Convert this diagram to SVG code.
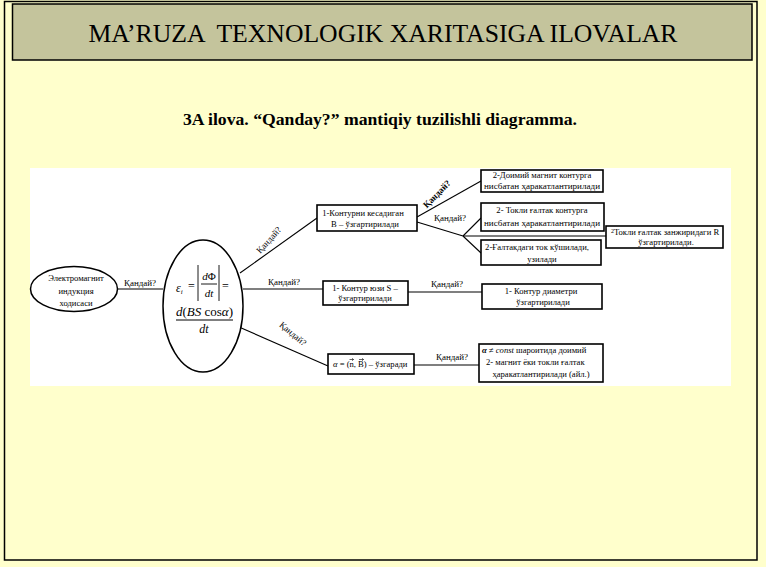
<svg xmlns="http://www.w3.org/2000/svg" width="766" height="567" viewBox="0 0 766 567">
<style>
text{font-family:Liberation Serif,DejaVu Serif,Noto Serif,serif;fill:#000}
.box{fill:#fff;stroke:#000;stroke-width:1.6}
.ln{stroke:#000;stroke-width:1.1;fill:none}
.t{font-size:8.6px;text-anchor:middle}
.tl{font-size:8.6px}
.q{font-size:9px;text-anchor:middle}
.qb{font-size:9px;text-anchor:middle;font-weight:bold}
.m{font-style:italic}
.ar{stroke:#000;stroke-width:0.6;fill:none}
</style>
<rect x="0" y="0" width="766" height="567" fill="#FFFFCC"/>
<rect x="4.5" y="1.5" width="752.5" height="558.5" fill="none" stroke="#000" stroke-width="1.5"/>
<g id="title">
<rect x="12.5" y="4" width="739.5" height="56" fill="#C4C49C" stroke="#000" stroke-width="1.5"/>
<text x="383" y="42" font-size="25" text-anchor="middle" textLength="589" lengthAdjust="spacingAndGlyphs" style="white-space:pre">MA’RUZA  TEXNOLOGIK XARITASIGA ILOVALAR</text>
</g>
<g id="subtitle">
<text x="380" y="125" font-size="16" font-weight="bold" text-anchor="middle" textLength="394" lengthAdjust="spacingAndGlyphs">3A ilova. “Qanday?” mantiqiy tuzilishli diagramma.</text>
</g>
<rect x="30" y="168" width="701" height="218" fill="#fff"/>

<g id="connectors">
<line class="ln" x1="118" y1="289" x2="163" y2="289"/>
<line class="ln" x1="240" y1="273" x2="317" y2="218"/>
<line class="ln" x1="243" y1="289" x2="323" y2="289"/>
<line class="ln" x1="239" y1="327" x2="328" y2="366"/>
<line class="ln" x1="417" y1="217" x2="481" y2="181"/>
<line class="ln" x1="417" y1="222" x2="463" y2="236"/>
<line class="ln" x1="463" y1="236" x2="481" y2="218"/>
<line class="ln" x1="463" y1="236" x2="481" y2="253"/>
<line class="ln" x1="463" y1="236" x2="606" y2="236" stroke-width="1.6"/>
<line class="ln" x1="408" y1="292" x2="482" y2="292" stroke="#888"/>
<line class="ln" x1="414" y1="365" x2="479" y2="365"/>
<text class="q" x="140" y="286">Қандай?</text>
<text class="q" x="284" y="285">Қандай?</text>
<text class="q" transform="translate(271,242) rotate(-48)">Қандай?</text>
<text class="q" transform="translate(291,336) rotate(40)">Қандай?</text>
<text class="qb" transform="translate(439,196) rotate(-46)">Қандай?</text>
<text class="q" x="450" y="221">Қандай?</text>
<text class="q" x="447" y="287">Қандай?</text>
<text class="q" x="452" y="360">Қандай?</text>
</g>

<g id="node-start">
<ellipse cx="74" cy="289" rx="43.5" ry="22.5" fill="#fff" stroke="#000" stroke-width="1.5"/>
<text class="t" x="76" y="281">Электромагнит</text>
<text class="t" x="76" y="294">индукция</text>
<text class="t" x="76" y="306">ходисаси</text>
</g>

<g id="node-formula">
<ellipse cx="203" cy="306" rx="40" ry="66" fill="#fff" stroke="#000" stroke-width="1.5"/>
<text x="176" y="292" font-size="12" class="m">ε<tspan font-size="7" dy="2">i</tspan></text>
<text x="188" y="290" font-size="12">=</text>
<line x1="198" y1="265" x2="198" y2="301" stroke="#000" stroke-width="0.9"/>
<line x1="219" y1="265" x2="219" y2="301" stroke="#000" stroke-width="0.9"/>
<text x="209" y="280" font-size="11" text-anchor="middle"><tspan class="m">d</tspan>Φ</text>
<line x1="201" y1="284" x2="217" y2="284" stroke="#000" stroke-width="0.9"/>
<text x="209" y="297" font-size="11" text-anchor="middle" class="m">dt</text>
<text x="222" y="290" font-size="12">=</text>
<text x="204.5" y="316" font-size="13" text-anchor="middle"><tspan class="m">d</tspan>(<tspan class="m">BS</tspan> cos<tspan class="m">α</tspan>)</text>
<line x1="176" y1="320" x2="233" y2="320" stroke="#000" stroke-width="1"/>
<text x="204" y="333" font-size="12" text-anchor="middle" class="m">dt</text>
</g>

<g id="node-b">
<rect class="box" x="317" y="205" width="100" height="26"/>
<text class="t" x="363" y="216">1-Контурни кесадиган</text>
<text class="t" x="365" y="227">В – ўзгартирилади</text>
</g>

<g id="node-a2">
<rect class="box" x="481" y="170" width="122" height="22"/>
<text class="t" x="542" y="178">2-Доимий магнит контурга</text>
<text class="t" x="542" y="189" textLength="116" lengthAdjust="spacingAndGlyphs">нисбатан ҳаракатлантирилади</text>
</g>

<g id="node-b2">
<rect class="box" x="481" y="203" width="123" height="28"/>
<text class="t" x="542" y="213">2- Токли ғалтак контурга</text>
<text class="t" x="542" y="226" textLength="116" lengthAdjust="spacingAndGlyphs">нисбатан ҳаракатлантирилади</text>
</g>

<g id="node-c2">
<rect class="box" x="481" y="240" width="120" height="25"/>
<text class="t" x="537" y="250">2-Ғалтакдаги ток кўшилади,</text>
<text class="t" x="542" y="262">узилади</text>
</g>

<g id="node-d2">
<rect class="box" x="606" y="226" width="117" height="22"/>
<text class="t" x="665" y="235"><tspan font-size="6" dy="-2">2</tspan><tspan dy="2">Токли ғалтак занжиридаги R</tspan></text>
<text class="t" x="666" y="245">ўзгартирилади.</text>
</g>

<g id="node-s">
<rect class="box" x="323" y="281" width="85" height="24"/>
<text class="t" x="365" y="291">1- Контур юзи S –</text>
<text class="t" x="365" y="301">ўзгартирилади</text>
</g>

<g id="node-s2">
<rect class="box" x="482" y="284" width="120" height="25"/>
<text class="t" x="541" y="294">1- Контур диаметри</text>
<text class="t" x="543" y="305">ўзгартирилади</text>
</g>

<g id="node-alpha">
<rect class="box" x="328" y="354" width="86" height="20"/>
<text x="333" y="367" font-size="8.6"><tspan class="m">α</tspan> = (n, B) – ўзгаради</text>
<path class="ar" d="M349.5,359.5 h4 m-1.5,-1.2 l1.5,1.2 l-1.5,1.2 M359,359.5 h4.5 m-1.5,-1.2 l1.5,1.2 l-1.5,1.2"/>
</g>

<g id="node-alpha2">
<rect class="box" x="479" y="344" width="124" height="38"/>
<text class="tl" x="482" y="353"><tspan class="m" font-weight="bold">α</tspan> ≠ <tspan class="m">const</tspan>  шароитида доимий</text>
<text class="tl" x="486" y="365">2- магнит ёки токли ғалтак</text>
<text class="t" x="541" y="377">ҳаракатлантирилади (айл.)</text>
</g>
</svg>
